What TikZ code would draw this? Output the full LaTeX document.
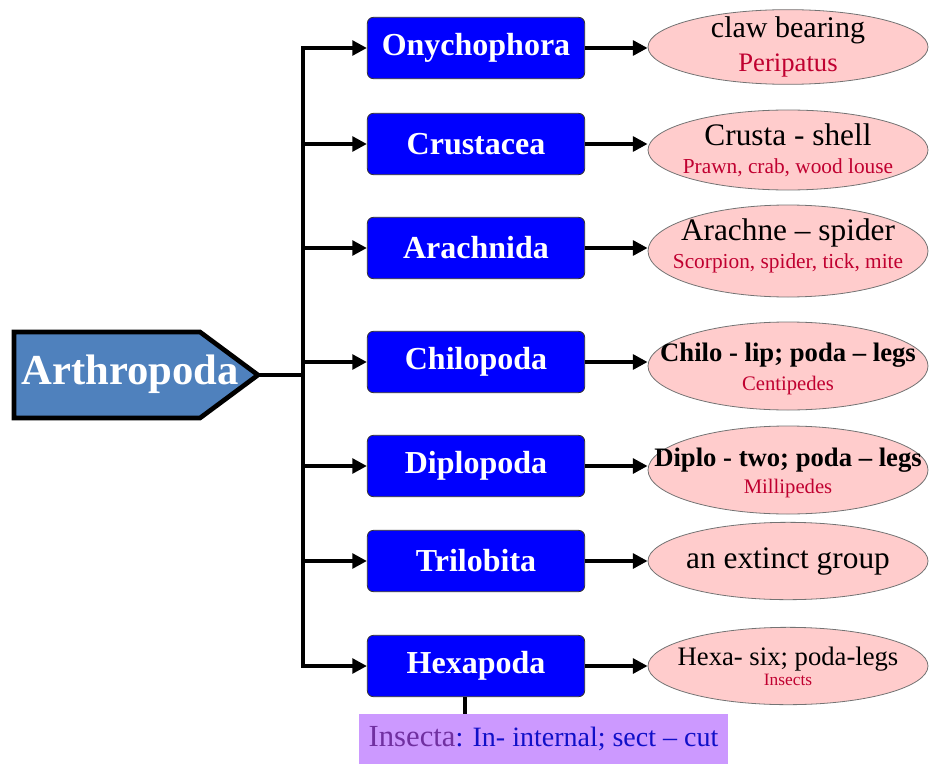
\documentclass[tikz,border=0pt]{standalone}
\usepackage{fontspec}
\setmainfont{Liberation Serif}
\usetikzlibrary{arrows.meta,shapes.geometric}
\definecolor{rootblue}{HTML}{4F81BD}
\definecolor{groupblue}{HTML}{0000FF}
\definecolor{notepink}{HTML}{FFCCCC}
\definecolor{notered}{HTML}{C00030}
\definecolor{insviolet}{HTML}{CC99FF}
\definecolor{inspurple}{HTML}{7030A0}
\definecolor{insblue}{HTML}{1010C8}
\newcommand{\fs}[1]{\fontsize{#1}{1.15\dimexpr#1pt\relax}\selectfont}
\tikzset{
	grpbox/.style={rectangle,rounded corners=4.5pt,draw=black!80,fill=groupblue,line width=0.6pt,
		text=white,font=\bfseries\fs{24},minimum width=163pt,minimum height=46pt,inner sep=0pt},
	noteell/.style={ellipse,draw=black!55,fill=notepink,line width=0.6pt,
		minimum width=210pt,minimum height=#1,inner sep=0pt},
	notetext/.style={align=center,inner sep=0pt,font=\fontsize{20}{26}\selectfont},
	link/.style={draw=black,line width=3pt},
	linkarrow/.style={-{Triangle[length=11pt,width=11pt]},draw=black,line width=3pt}
}

\begin{document}
\begin{tikzpicture}[x=0.75pt,y=-0.75pt]
	\useasboundingbox (0,0) rectangle (930,763);
	% root pentagon
	\draw[line width=3.5pt,fill=rootblue] (14,332) -- (200,332) -- (258,375) -- (200,418) -- (14,418) -- cycle;
	\node[text=white,font=\bfseries\fs{32}] (root) at (130,374) {Arthropoda};
	\coordinate (roottip) at (258,375);
	\coordinate (trunk) at (303,375);
	\draw[link] (roottip) -- (trunk);
	% groups
	\foreach \name/\lbl/\y in {ony/Onychophora/48,cru/Crustacea/144,ara/Arachnida/248,
		chi/Chilopoda/362,dip/Diplopoda/466,tri/Trilobita/561,hex/Hexapoda/666}{
		\node[grpbox] (\name) at (476,\y) {\lbl};
		\coordinate (j\name) at (303,\y);
		\draw[linkarrow] (j\name) -- (\name.west);
	}
	\draw[link,line cap=rect] (jony) -- (jhex);
	% notes
	\foreach \name/\y/\h in {ony/47/56pt,cru/150/60pt,ara/251/69pt,chi/366/66pt,dip/470/66pt,tri/561/58pt,hex/666/58pt}
		\node[noteell=\h] (\name N) at (788,\y) {};
	\node[notetext] (onyT) at (onyN) {\fs{22.5}claw bearing\\{\color{notered}\fs{20}Peripatus}};
	\node[notetext] (cruT) at (cruN) {\fs{23.5}Crusta - shell\\[-5pt]{\color{notered}\fs{16}Prawn, crab, wood louse}};
	\node[notetext] (araT) at ([yshift=4pt]araN.center) {\fs{23.5}Arachne -- spider\\[-5pt]{\color{notered}\fs{16}Scorpion, spider, tick, mite}};
	\node[notetext] (chiT) at ([yshift=-2pt]chiN.center) {\bfseries\fs{20}Chilo - lip; poda -- legs\\[-4pt]{\mdseries\color{notered}\fs{15.5}Centipedes}};
	\node[notetext] (dipT) at ([yshift=-2pt]dipN.center) {\bfseries\fs{20}Diplo - two; poda -- legs\\[-6pt]{\mdseries\color{notered}\fs{15.5}Millipedes}};
	\node[notetext] (triT) at (triN) {\fs{23.5}an extinct group};
	\node[notetext] (hexT) at (hexN) {\fs{20}Hexa- six; poda-legs\\[-11pt]{\color{notered}\fs{13}Insects}};
	\foreach \name in {ony,cru,ara,chi,dip,tri,hex}
		\draw[linkarrow] (\name.east) -- (\name.east -| \name N.west);
	% insecta
	\node[fill=insviolet,minimum width=277pt,minimum height=37.5pt,inner sep=0pt] (ins) at (543.5,739)
		{{\color{inspurple}\fs{23}Insecta}{\color{insblue}\fs{21}: In- internal; sect -- cut}};
	\coordinate (hexfoot) at (465,666);
	\draw[link] (hexfoot |- hex.south) -- (hexfoot |- ins.north);
\end{tikzpicture}
\end{document}
